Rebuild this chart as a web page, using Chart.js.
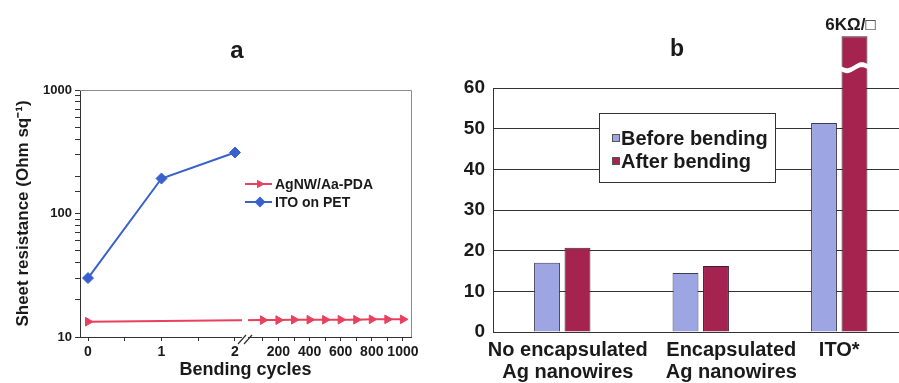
<!DOCTYPE html>
<html lang="en">
<head>
  <meta charset="UTF-8" />
  <title>Sheet resistance before / after bending</title>
  <script src="https://cdn.jsdelivr.net/npm/chart.js"></script>
  <style>
    html, body { margin: 0; padding: 0; background: #fff; overflow: hidden; }
    #wrapA { position: absolute; left: 0; top: 0; width: 440px; height: 383px; }
    #wrapB { position: absolute; left: 440px; top: 0; width: 459px; height: 383px; overflow: hidden; }
  </style>
</head>
<body>
  <div id="wrapA"><canvas id="chartA" width="440" height="383"></canvas></div>
  <div id="wrapB"><canvas id="chartB" width="500" height="383"></canvas></div>

  <script>
    // ---- panel a : sheet resistance vs bending cycles ----
    const itoCycles = [0, 1, 2];
    const itoResistance = [30, 192, 312];
    const agnwCycles = [0, 100, 200, 300, 400, 500, 600, 700, 800, 900, 1000];
    const agnwResistance = [13.3, 13.7, 13.7, 13.8, 13.8, 13.8, 13.8, 13.8, 13.9, 13.9, 13.9];
    const xTickCycles = [0, 0.5, 1, 1.5, 2, 100, 200, 300, 400, 500, 600, 700, 800, 900, 1000];
    const xTickLabels = ['0', '', '1', '', '2', '', '200', '', '400', '', '600', '', '800', '', '1000'];
    const yTickLabels = [10, 100, 1000];

    // ---- panel b : before / after bending ----
    const sampleLabels = [['No encapsulated', 'Ag nanowires'], ['Encapsulated', 'Ag nanowires'], 'ITO*'];
    const beforeBending = [17, 14.5, 51.4];
    const afterBending = [20.7, 16.2, 6000];

    const FONT = "'Liberation Sans', Arial, sans-serif";
    const RED = '#e8405e';
    const BLUE = '#3a60cc';
    const LAV = '#9ea5e3';
    const WINE = '#a5234f';
    const INK = '#1a1a1a';

    Chart.defaults.font.family = FONT;
    Chart.defaults.color = INK;

    // broken x axis: 0..2 cycles on the left part, 0..1000 cycles squeezed on the right
    const SEG2_START = 2.168;
    const SEG2_SCALE = 0.002117;
    const BREAK_AT = 2.136;
    function xPos(c) { return c <= 2 ? c : SEG2_START + c * SEG2_SCALE; }

    function drawMarker(ctx, style, x, y, r) {
      ctx.beginPath();
      if (style === 'triangle') {
        ctx.moveTo(x + r, y);
        ctx.lineTo(x - r * 0.6, y - r * 0.85);
        ctx.lineTo(x - r * 0.6, y + r * 0.85);
      } else {
        ctx.moveTo(x, y - r);
        ctx.lineTo(x + r, y);
        ctx.lineTo(x, y + r);
        ctx.lineTo(x - r, y);
      }
      ctx.closePath();
      ctx.fill();
    }

    const panelTitle = {
      id: 'panelTitle',
      afterDraw(chart, args, opts) {
        const ctx = chart.ctx;
        ctx.save();
        ctx.font = 'bold ' + opts.size + 'px ' + FONT;
        ctx.fillStyle = INK;
        ctx.textAlign = 'center';
        ctx.textBaseline = 'middle';
        ctx.fillText(opts.text, opts.x, opts.y);
        ctx.restore();
      }
    };

    const brokenAxisA = {
      id: 'brokenAxisA',
      afterDraw(chart) {
        const { ctx, chartArea: a, scales: { x } } = chart;
        const xb = x.getPixelForValue(BREAK_AT);
        ctx.save();
        ctx.fillStyle = '#fff';
        ctx.fillRect(xb - 3, a.top + 2, 6, a.bottom - a.top + 2);
        ctx.strokeStyle = '#333';
        ctx.lineWidth = 1.2;
        [-3, 3].forEach(dx => {
          ctx.beginPath();
          ctx.moveTo(xb + dx - 4, a.bottom + 7);
          ctx.lineTo(xb + dx + 4, a.bottom - 2);
          ctx.stroke();
        });
        ctx.strokeStyle = '#8c8c8c';
        ctx.lineWidth = 1;
        ctx.beginPath();
        ctx.moveTo(a.left, a.top + 0.5);
        ctx.lineTo(a.right + 0.5, a.top + 0.5);
        ctx.lineTo(a.right + 0.5, a.bottom);
        ctx.stroke();
        ctx.restore();
      }
    };

    const lineLegend = {
      id: 'lineLegend',
      afterDraw(chart, args, opts) {
        const ctx = chart.ctx;
        ctx.save();
        ctx.font = 'bold 14px ' + FONT;
        ctx.textBaseline = 'middle';
        chart.data.datasets.forEach((ds, i) => {
          const y = opts.y + i * opts.rowGap;
          ctx.strokeStyle = ds.borderColor;
          ctx.fillStyle = ds.borderColor;
          ctx.lineWidth = 2;
          ctx.beginPath();
          ctx.moveTo(opts.x, y);
          ctx.lineTo(opts.x + 27, y);
          ctx.stroke();
          drawMarker(ctx, ds.pointStyle, opts.x + 15, y, ds.pointRadius);
          ctx.fillStyle = INK;
          ctx.fillText(ds.label, opts.x + 30, y + 1);
        });
        ctx.restore();
      }
    };

    new Chart(document.getElementById('chartA'), {
      type: 'line',
      data: {
        datasets: [
          {
            label: 'AgNW/Aa-PDA',
            data: agnwCycles.map((c, i) => ({ x: xPos(c), y: agnwResistance[i] })),
            borderColor: RED,
            backgroundColor: RED,
            borderWidth: 2,
            pointStyle: 'triangle',
            rotation: 90,
            pointRadius: 5,
            pointBorderWidth: 1
          },
          {
            label: 'ITO on PET',
            data: itoCycles.map((c, i) => ({ x: xPos(c), y: itoResistance[i] })),
            borderColor: BLUE,
            backgroundColor: BLUE,
            borderWidth: 2,
            pointStyle: 'rectRot',
            pointRadius: 5.5,
            pointBorderWidth: 1
          }
        ]
      },
      options: {
        responsive: false,
        animation: false,
        layout: { padding: { top: 90, right: 29, left: 0, bottom: 0 } },
        plugins: {
          legend: { display: false },
          tooltip: { enabled: false },
          panelTitle: { text: 'a', x: 237, y: 51, size: 24 },
          lineLegend: { x: 245, y: 184, rowGap: 18 }
        },
        scales: {
          x: {
            type: 'linear',
            min: -0.109,
            max: 4.395,
            afterFit: s => { s.height = 46; },
            afterBuildTicks: s => { s.ticks = xTickCycles.map(c => ({ value: xPos(c) })); },
            ticks: {
              autoSkip: false,
              maxRotation: 0,
              padding: 3,
              font: { size: 14, weight: 'bold' },
              callback: (v, i) => xTickLabels[i]
            },
            grid: { drawOnChartArea: false, tickLength: 4, color: '#333' },
            border: { color: '#333' },
            title: {
              display: true,
              text: 'Bending cycles',
              font: { size: 18, weight: 'bold' },
              padding: { top: 0, bottom: 2 }
            }
          },
          y: {
            type: 'logarithmic',
            min: 10,
            max: 1000,
            afterFit: s => { s.width = 80; },
            ticks: {
              autoSkip: false,
              padding: 3,
              font: { size: 13, weight: 'bold' },
              callback: v => {
                const t = yTickLabels.find(l => Math.abs(l - v) < 1e-6);
                return t ? String(t) : '';
              }
            },
            grid: { drawOnChartArea: false, tickLength: 5, color: '#333' },
            border: { color: '#333' },
            title: {
              display: true,
              text: 'Sheet resistance (Ohm sq\u207B\u00B9)',
              font: { size: 17, weight: 'bold' },
              padding: { top: 13, bottom: 0 }
            }
          }
        }
      },
      plugins: [panelTitle, brokenAxisA, lineLegend]
    });

    // ---- panel b ----
    const Y_MAX_B = 60;
    const BROKEN_TOP = 72.7;   // height at which an off-scale bar is cut
    const BREAK_VALUE_B = 65;
    const LABEL_NUDGE = [2, 11, 0];   // leading spaces: the source labels sit right of centre

    const barBreak = {
      id: 'barBreak',
      afterDatasetsDraw(chart) {
        const { ctx, scales: { y } } = chart;
        ctx.save();
        ctx.font = 'bold 17px ' + FONT;
        ctx.textAlign = 'center';
        ctx.textBaseline = 'middle';
        chart.data.datasets.forEach((ds, di) => {
          const meta = chart.getDatasetMeta(di);
          ds.rawValues.forEach((v, i) => {
            if (v <= Y_MAX_B) return;
            const bar = meta.data[i];
            const yc = y.getPixelForValue(BREAK_VALUE_B);
            const x0 = bar.x - bar.width / 2 - 2;
            const x1 = bar.x + bar.width / 2 + 2;
            ctx.fillStyle = '#fff';
            ctx.beginPath();
            for (let k = 0; k <= 20; k++) {
              const x = x0 + (x1 - x0) * k / 20;
              const yy = yc - 2.5 + 3 * Math.sin(k / 20 * 2 * Math.PI);
              k === 0 ? ctx.moveTo(x, yy) : ctx.lineTo(x, yy);
            }
            for (let k = 20; k >= 0; k--) {
              const x = x0 + (x1 - x0) * k / 20;
              ctx.lineTo(x, yc + 2.5 + 3 * Math.sin(k / 20 * 2 * Math.PI));
            }
            ctx.closePath();
            ctx.fill();
            ctx.fillStyle = INK;
            ctx.fillText((v / 1000) + 'K\u03A9/\u25A1', bar.x - 4, bar.y - 11);
          });
        });
        ctx.restore();
      }
    };

    const boxLegend = {
      id: 'boxLegend',
      afterDraw(chart, args, opts) {
        const ctx = chart.ctx;
        ctx.save();
        ctx.fillStyle = '#fff';
        ctx.fillRect(opts.x, opts.y, opts.w, opts.h);
        ctx.strokeStyle = '#333';
        ctx.lineWidth = 1;
        ctx.strokeRect(opts.x + 0.5, opts.y + 0.5, opts.w, opts.h);
        ctx.font = 'bold 20px ' + FONT;
        ctx.textBaseline = 'middle';
        chart.data.datasets.forEach((ds, i) => {
          const y = opts.y + 25 + i * 23;
          ctx.fillStyle = ds.backgroundColor;
          ctx.fillRect(opts.x + 13, y - 4, 8, 8);
          ctx.strokeStyle = '#555';
          ctx.strokeRect(opts.x + 13.5, y - 3.5, 7, 7);
          ctx.fillStyle = INK;
          ctx.fillText(ds.label, opts.x + 22, y + 1);
        });
        ctx.restore();
      }
    };

    new Chart(document.getElementById('chartB'), {
      type: 'bar',
      data: {
        labels: sampleLabels,
        datasets: [
          {
            label: 'Before bending',
            data: beforeBending.map(v => Math.min(v, BROKEN_TOP)),
            rawValues: beforeBending,
            backgroundColor: LAV,
            borderColor: '#3c3c55',
            borderWidth: 1,
            clip: false
          },
          {
            label: 'After bending',
            data: afterBending.map(v => Math.min(v, BROKEN_TOP)),
            rawValues: afterBending,
            backgroundColor: WINE,
            borderColor: '#3c2030',
            borderWidth: 1,
            clip: false
          }
        ]
      },
      options: {
        responsive: false,
        animation: false,
        categoryPercentage: 0.44,
        barPercentage: 0.85,
        layout: { padding: { top: 88, right: 31.5, left: 0, bottom: 0 } },
        plugins: {
          legend: { display: false },
          tooltip: { enabled: false },
          panelTitle: { text: 'b', x: 237, y: 50, size: 23 },
          boxLegend: { x: 159, y: 113, w: 176, h: 69 }
        },
        scales: {
          x: {
            afterFit: s => { s.height = 51; },
            ticks: {
              maxRotation: 0,
              autoSkip: false,
              padding: 7,
              font: { size: 20, weight: 'bold', lineHeight: 1.1 },
              callback: function (v, i) {
                const lab = this.getLabelForValue(v);
                const pad = ' '.repeat(LABEL_NUDGE[i]);
                return Array.isArray(lab) ? lab.map(l => pad + l) : pad + lab;
              }
            },
            grid: { drawOnChartArea: false, drawTicks: false },
            border: { color: '#333' }
          },
          y: {
            min: 0,
            max: Y_MAX_B,
            afterFit: s => { s.width = 53; },
            ticks: {
              stepSize: 10,
              padding: 8,
              font: { size: 19, weight: 'bold' }
            },
            grid: { color: '#333', drawTicks: false },
            border: { color: '#333' }
          }
        }
      },
      plugins: [panelTitle, barBreak, boxLegend]
    });
  </script>
</body>
</html>
